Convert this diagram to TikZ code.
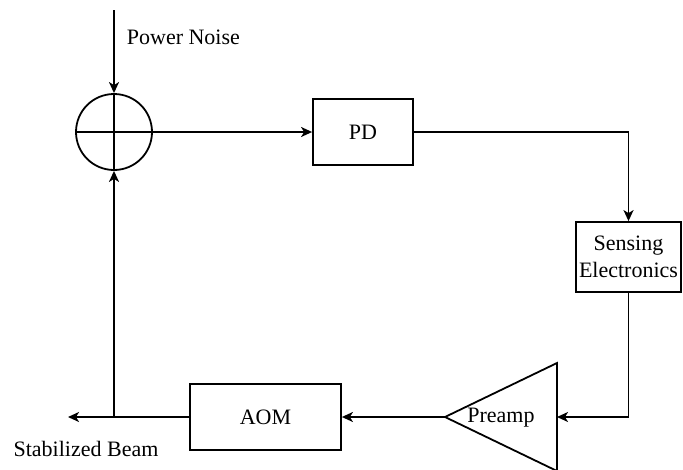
\documentclass[tikz,border=0pt]{standalone}
\usepackage{fontspec}
\setmainfont{Liberation Serif}
\usetikzlibrary{arrows.meta}
\begin{document}
\begin{tikzpicture}[x=1pt,y=-1pt,line width=1.8pt,
  every node/.style={font=\fontsize{22}{26}\selectfont},
  blk/.style={draw,rectangle,inner sep=0pt},
  arr/.style={-{Stealth[length=11pt,width=10pt,inset=3pt]}},
  lbl/.style={inner sep=0pt}]
\useasboundingbox (0,0) rectangle (683,469);
\node[draw,circle,minimum size=76pt,inner sep=0pt] (sum) at (114,132) {};
\draw (sum.west) -- (sum.east);
\draw (sum.north) -- (sum.south);
\coordinate (top) at (114,10);
\node[blk,minimum width=100pt,minimum height=66pt] (pd) at (363,132) {PD};
\node[blk,minimum width=105pt,minimum height=70pt,align=center] (se) at (628.5,257) {Sensing\\[1pt]Electronics};
\node[blk,minimum width=151pt,minimum height=66pt] (aom) at (265.5,417) {AOM};
\coordinate (tip) at (445,417);
\coordinate (tr) at (557,363);
\coordinate (br) at (557,471);
\coordinate (rmid) at (557,417);
\draw (tip) -- (tr) -- (br) -- cycle;
\node[lbl] (pre) at (501,418) {Preamp};
\coordinate (out) at (68,417);
\coordinate (junc) at (114,417);
\node[lbl,anchor=west] (pn) at (126,37) {Power Noise};
\node[lbl] (sb) at (86,449) {Stabilized Beam};
\draw[arr] (top) -- (sum.north);
\draw[arr] (sum.east) -- (pd.west);
\draw[arr] (pd.east) -| (se.north);
\draw[arr] (se.south) |- (rmid);
\draw[arr] (tip) -- (aom.east);
\draw[arr] (aom.west) -- (out);
\draw[arr] (junc) -- (sum.south);
\end{tikzpicture}
\end{document}
